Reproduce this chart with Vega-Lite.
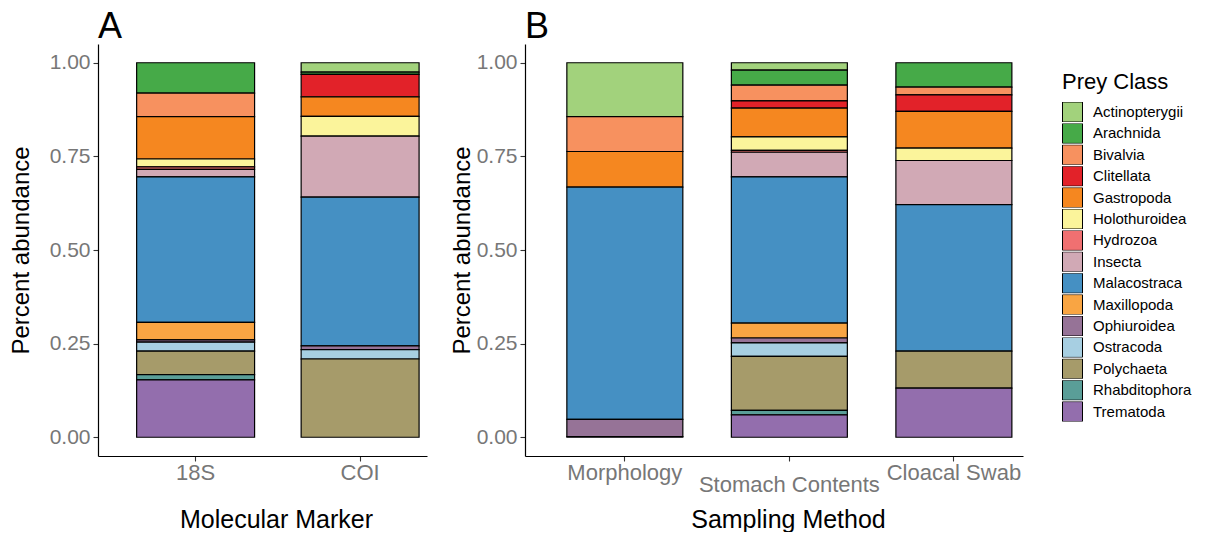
{
  "$schema": "https://vega.github.io/schema/vega-lite/v6.json",
  "padding": {"left": 9, "top": 9, "right": 0, "bottom": 0},
  "config": {
    "font": "Liberation Sans",
    "view": {"stroke": null},
    "axis": {
      "grid": false,
      "domainColor": "#000000",
      "domainWidth": 1.2,
      "tickColor": "#333333",
      "tickSize": 5,
      "tickWidth": 1.1,
      "labelColor": "#777777",
      "labelFontSize": 21,
      "labelFont": "Liberation Sans",
      "labelLimit": 400,
      "titleFont": "Liberation Sans",
      "titleFontSize": 24,
      "titleFontWeight": "normal",
      "titleColor": "#000000"
    },
    "title": {"fontSize": 36, "fontWeight": "normal", "anchor": "start", "color": "#000000", "font": "Liberation Sans"},
    "legend": {
      "titleFontSize": 22,
      "titleFontWeight": "normal",
      "titleColor": "#000000",
      "titleFont": "Liberation Sans",
      "labelFontSize": 15,
      "labelColor": "#000000",
      "labelFont": "Liberation Sans",
      "symbolType": "square",
      "symbolSize": 400,
      "symbolStrokeColor": "#000000",
      "symbolStrokeWidth": 1,
      "symbolFillOpacity": 1,
      "rowPadding": 1.4,
      "clipHeight": 20,
      "labelOffset": 10,
      "titlePadding": 8
    }
  },
  "data": {
    "values": [
      {"panel": "A", "group": "18S", "cls": "Arachnida", "value": 0.081},
      {"panel": "A", "group": "18S", "cls": "Bivalvia", "value": 0.063},
      {"panel": "A", "group": "18S", "cls": "Gastropoda", "value": 0.113},
      {"panel": "A", "group": "18S", "cls": "Holothuroidea", "value": 0.021},
      {"panel": "A", "group": "18S", "cls": "Hydrozoa", "value": 0.007},
      {"panel": "A", "group": "18S", "cls": "Insecta", "value": 0.020},
      {"panel": "A", "group": "18S", "cls": "Malacostraca", "value": 0.388},
      {"panel": "A", "group": "18S", "cls": "Maxillopoda", "value": 0.047},
      {"panel": "A", "group": "18S", "cls": "Ophiuroidea", "value": 0.006},
      {"panel": "A", "group": "18S", "cls": "Ostracoda", "value": 0.024},
      {"panel": "A", "group": "18S", "cls": "Polychaeta", "value": 0.063},
      {"panel": "A", "group": "18S", "cls": "Rhabditophora", "value": 0.014},
      {"panel": "A", "group": "18S", "cls": "Trematoda", "value": 0.153},
      {"panel": "A", "group": "COI", "cls": "Actinopterygii", "value": 0.025},
      {"panel": "A", "group": "COI", "cls": "Arachnida", "value": 0.006},
      {"panel": "A", "group": "COI", "cls": "Clitellata", "value": 0.060},
      {"panel": "A", "group": "COI", "cls": "Gastropoda", "value": 0.052},
      {"panel": "A", "group": "COI", "cls": "Holothuroidea", "value": 0.053},
      {"panel": "A", "group": "COI", "cls": "Insecta", "value": 0.163},
      {"panel": "A", "group": "COI", "cls": "Malacostraca", "value": 0.397},
      {"panel": "A", "group": "COI", "cls": "Ophiuroidea", "value": 0.010},
      {"panel": "A", "group": "COI", "cls": "Ostracoda", "value": 0.025},
      {"panel": "A", "group": "COI", "cls": "Polychaeta", "value": 0.209},
      {"panel": "B", "group": "Morphology", "cls": "Actinopterygii", "value": 0.144},
      {"panel": "B", "group": "Morphology", "cls": "Bivalvia", "value": 0.093},
      {"panel": "B", "group": "Morphology", "cls": "Gastropoda", "value": 0.095},
      {"panel": "B", "group": "Morphology", "cls": "Malacostraca", "value": 0.620},
      {"panel": "B", "group": "Morphology", "cls": "Ophiuroidea", "value": 0.046},
      {"panel": "B", "group": "Morphology", "cls": "Trematoda", "value": 0.002},
      {"panel": "B", "group": "Stomach Contents", "cls": "Actinopterygii", "value": 0.020},
      {"panel": "B", "group": "Stomach Contents", "cls": "Arachnida", "value": 0.040},
      {"panel": "B", "group": "Stomach Contents", "cls": "Bivalvia", "value": 0.042},
      {"panel": "B", "group": "Stomach Contents", "cls": "Clitellata", "value": 0.019},
      {"panel": "B", "group": "Stomach Contents", "cls": "Gastropoda", "value": 0.077},
      {"panel": "B", "group": "Stomach Contents", "cls": "Holothuroidea", "value": 0.036},
      {"panel": "B", "group": "Stomach Contents", "cls": "Hydrozoa", "value": 0.005},
      {"panel": "B", "group": "Stomach Contents", "cls": "Insecta", "value": 0.066},
      {"panel": "B", "group": "Stomach Contents", "cls": "Malacostraca", "value": 0.390},
      {"panel": "B", "group": "Stomach Contents", "cls": "Maxillopoda", "value": 0.040},
      {"panel": "B", "group": "Stomach Contents", "cls": "Ophiuroidea", "value": 0.013},
      {"panel": "B", "group": "Stomach Contents", "cls": "Ostracoda", "value": 0.036},
      {"panel": "B", "group": "Stomach Contents", "cls": "Polychaeta", "value": 0.144},
      {"panel": "B", "group": "Stomach Contents", "cls": "Rhabditophora", "value": 0.012},
      {"panel": "B", "group": "Stomach Contents", "cls": "Trematoda", "value": 0.060},
      {"panel": "B", "group": "Cloacal Swab", "cls": "Arachnida", "value": 0.065},
      {"panel": "B", "group": "Cloacal Swab", "cls": "Bivalvia", "value": 0.021},
      {"panel": "B", "group": "Cloacal Swab", "cls": "Clitellata", "value": 0.044},
      {"panel": "B", "group": "Cloacal Swab", "cls": "Gastropoda", "value": 0.098},
      {"panel": "B", "group": "Cloacal Swab", "cls": "Holothuroidea", "value": 0.033},
      {"panel": "B", "group": "Cloacal Swab", "cls": "Insecta", "value": 0.118},
      {"panel": "B", "group": "Cloacal Swab", "cls": "Malacostraca", "value": 0.391},
      {"panel": "B", "group": "Cloacal Swab", "cls": "Polychaeta", "value": 0.099},
      {"panel": "B", "group": "Cloacal Swab", "cls": "Trematoda", "value": 0.131}
    ]
  },
  "spacing": 23,
  "resolve": {"scale": {"color": "shared"}},
  "hconcat": [
    {
      "title": {"text": "A", "baseline": "alphabetic", "offset": -30, "frame": "group"},
      "width": 329,
      "height": 412,
      "transform": [{"filter": "datum.panel == 'A'"}],
      "mark": {"type": "bar", "stroke": "#000000", "strokeWidth": 1.2},
      "encoding": {
        "x": {
          "field": "group", "type": "nominal", "sort": ["18S", "COI"],
          "scale": {"paddingInner": 0.283, "paddingOuter": 0.1415, "align": 0.83},
          "axis": {"labelAngle": 0, "title": "Molecular Marker", "labelFontSize": 22, "labelLimit": 400, "titleFontSize": 25, "labelPadding": 1, "titlePadding": 24, "titleX": 178}
        },
        "y": {
          "field": "value", "type": "quantitative", "stack": "zero",
          "scale": {"domain": [-0.05, 1.05], "nice": false, "zero": false},
          "axis": {"values": [0, 0.25, 0.5, 0.75, 1], "format": ".2f", "title": "Percent abundance", "titlePadding": 16, "labelPadding": 3}
        },
        "color": {
          "field": "cls", "type": "nominal", "title": "Prey Class",
          "scale": {
            "domain": ["Actinopterygii", "Arachnida", "Bivalvia", "Clitellata", "Gastropoda", "Holothuroidea", "Hydrozoa", "Insecta", "Malacostraca", "Maxillopoda", "Ophiuroidea", "Ostracoda", "Polychaeta", "Rhabditophora", "Trematoda"],
            "range": ["#A2D27C", "#46AA48", "#F7915F", "#E22229", "#F58720", "#FBF49B", "#F07071", "#D1A9B5", "#4590C3", "#F9A543", "#967397", "#A7CFE2", "#A69B6A", "#5A9E98", "#936EAD"]
          },
          "legend": {"orient": "none", "legendX": 964, "legendY": 28}
        },
        "order": {"field": "cls", "sort": "descending"}
      }
    },
    {
      "title": {"text": "B", "baseline": "alphabetic", "offset": -30, "frame": "group"},
      "width": 498,
      "height": 412,
      "transform": [{"filter": "datum.panel == 'B'"}],
      "mark": {"type": "bar", "stroke": "#000000", "strokeWidth": 1.2},
      "encoding": {
        "x": {
          "field": "group", "type": "nominal", "sort": ["Morphology", "Stomach Contents", "Cloacal Swab"],
          "scale": {"paddingInner": 0.295, "paddingOuter": 0.161, "align": 0.79},
          "axis": {
            "labelAngle": 0, "title": "Sampling Method", "labelFontSize": 22, "labelLimit": 400, "titleFontSize": 25,
            "labelPadding": {"condition": {"test": "datum.value == 'Stomach Contents'", "value": 13}, "value": 1},
            "titlePadding": 12, "titleX": 263
          }
        },
        "y": {
          "field": "value", "type": "quantitative", "stack": "zero",
          "scale": {"domain": [-0.05, 1.05], "nice": false, "zero": false},
          "axis": {"values": [0, 0.25, 0.5, 0.75, 1], "format": ".2f", "title": "Percent abundance", "titlePadding": 2, "labelPadding": 3}
        },
        "color": {
          "field": "cls", "type": "nominal", "title": "Prey Class",
          "scale": {
            "domain": ["Actinopterygii", "Arachnida", "Bivalvia", "Clitellata", "Gastropoda", "Holothuroidea", "Hydrozoa", "Insecta", "Malacostraca", "Maxillopoda", "Ophiuroidea", "Ostracoda", "Polychaeta", "Rhabditophora", "Trematoda"],
            "range": ["#A2D27C", "#46AA48", "#F7915F", "#E22229", "#F58720", "#FBF49B", "#F07071", "#D1A9B5", "#4590C3", "#F9A543", "#967397", "#A7CFE2", "#A69B6A", "#5A9E98", "#936EAD"]
          },
          "legend": {"orient": "none", "legendX": 964, "legendY": 28}
        },
        "order": {"field": "cls", "sort": "descending"}
      }
    }
  ]
}
